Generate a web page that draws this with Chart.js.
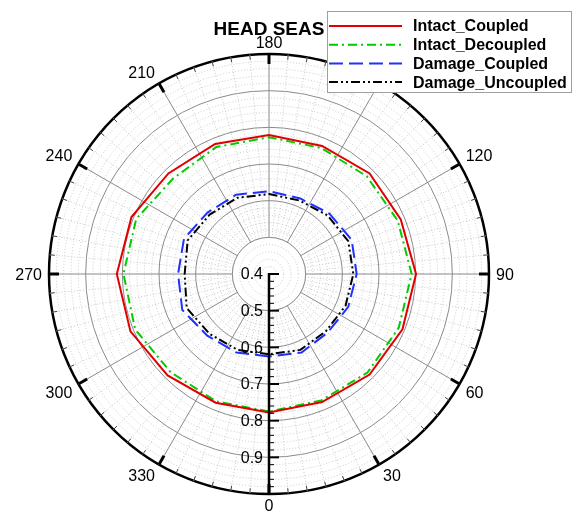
<!DOCTYPE html>
<html>
<head>
<meta charset="utf-8">
<script src="https://cdn.jsdelivr.net/npm/chart.js@4.4.0/dist/chart.umd.min.js"></script>
<style>
  body { margin: 0; background: #fff; }
  canvas { display: block; }
</style>
</head>
<body>
<canvas id="polarChart" width="580" height="515"></canvas>
<script>
// headings in degrees: 0 at bottom, counter-clockwise (90 right, 180 top)
const headings = [0, 22.5, 45, 67.5, 90, 112.5, 135, 157.5, 180, 202.5, 225, 247.5, 270, 292.5, 315, 337.5];

const intactCoupled    = [0.778, 0.778, 0.788, 0.794, 0.801, 0.789, 0.788, 0.778, 0.779, 0.784, 0.788, 0.806, 0.815, 0.809, 0.791, 0.780];
const intactDecoupled  = [0.775, 0.773, 0.780, 0.783, 0.789, 0.780, 0.777, 0.772, 0.773, 0.775, 0.769, 0.792, 0.797, 0.795, 0.779, 0.776];
const damageCoupled    = [0.625, 0.632, 0.626, 0.634, 0.639, 0.644, 0.633, 0.623, 0.626, 0.634, 0.637, 0.651, 0.648, 0.656, 0.638, 0.632];
const damageUncoupled  = [0.619, 0.624, 0.620, 0.626, 0.630, 0.634, 0.626, 0.617, 0.618, 0.625, 0.629, 0.640, 0.630, 0.643, 0.630, 0.624];

const seriesNames = ['Intact_Coupled', 'Intact_Decoupled', 'Damage_Coupled', 'Damage_Uncoupled'];
const angleTicks = [0, 30, 60, 90, 120, 150, 180, 210, 240, 270, 300, 330];
const radialTicks = [0.4, 0.5, 0.6, 0.7, 0.8, 0.9];
const rMin = 0.4, rMax = 1.0;
const titleText = 'HEAD SEAS';

// the radar scale works on slots of 2.5 deg so 22.5 deg data and 30/5 deg grid both fit
const STEP = 2.5;
const nSlots = 360 / STEP;
const slotOf = a => Math.round(((360 - a) % 360) / STEP) % nSlots;
const angleOf = i => (360 - i * STEP) % 360;
const toSlots = values => {
  const arr = new Array(nSlots).fill(null);
  headings.forEach((h, k) => { arr[slotOf(h)] = values[k]; });
  return arr;
};
const slotLabels = Array.from({length: nSlots}, (_, i) => String(angleOf(i)));

const isMajor = v => Math.abs(v * 10 - Math.round(v * 10)) < 1e-6;
const majorGrid = '#8a8a8a';
const minorGrid = '#c8c8c8';
const FONT = '"Liberation Sans", Arial, sans-serif';

const polarDecor = {
  id: 'polarDecor',
  beforeDatasetsDraw(chart) {
    // clear the hub inside 0.5 like the original, keep its dotted rings
    const s = chart.scales.r, ctx = chart.ctx;
    const r5 = s.getDistanceFromCenterForValue(0.5);
    ctx.save();
    ctx.fillStyle = '#fff';
    ctx.beginPath();
    ctx.arc(s.xCenter, s.yCenter, r5 + 0.5, 0, 2 * Math.PI);
    ctx.fill();
    ctx.lineWidth = 1;
    ctx.strokeStyle = minorGrid;
    ctx.setLineDash([1, 2]);
    s.ticks.forEach(t => {
      if (t.value > rMin + 1e-6 && t.value < 0.5 - 1e-6) {
        ctx.beginPath();
        ctx.arc(s.xCenter, s.yCenter, s.getDistanceFromCenterForValue(t.value), 0, 2 * Math.PI);
        ctx.stroke();
      }
    });
    ctx.setLineDash([]);
    ctx.strokeStyle = majorGrid;
    ctx.beginPath();
    ctx.arc(s.xCenter, s.yCenter, r5, 0, 2 * Math.PI);
    ctx.stroke();
    ctx.restore();
  },
  afterDatasetsDraw(chart) {
    const s = chart.scales.r, ctx = chart.ctx;
    const R = s.getDistanceFromCenterForValue(rMax);
    ctx.save();

    // tick marks on the rim
    for (let a = 0; a < 360; a += 5) {
      const i = slotOf(a);
      const major = a % 30 === 0;
      const p1 = s.getPointPosition(i, R);
      const p2 = s.getPointPosition(i, R - (major ? 10 : 5));
      ctx.strokeStyle = major ? '#000' : '#444';
      ctx.lineWidth = major ? 3 : 1;
      ctx.beginPath();
      ctx.moveTo(p1.x, p1.y);
      ctx.lineTo(p2.x, p2.y);
      ctx.stroke();
    }

    // radial axis pointing down from the centre
    ctx.strokeStyle = '#000';
    const top = s.getPointPositionForValue(0, rMin);
    const bot = s.getPointPositionForValue(0, rMax);
    ctx.lineWidth = 2.5;
    ctx.beginPath();
    ctx.moveTo(top.x, top.y - 1);
    ctx.lineTo(bot.x, bot.y);
    ctx.stroke();
    s.ticks.forEach(t => {
      if (t.value > rMax - 1e-6) return;
      const p = s.getPointPositionForValue(0, t.value);
      const major = isMajor(t.value);
      ctx.lineWidth = major ? 2 : 1;
      ctx.beginPath();
      ctx.moveTo(p.x, p.y);
      ctx.lineTo(p.x + (major ? 10 : 5), p.y);
      ctx.stroke();
    });
    ctx.fillStyle = '#000';
    ctx.font = '16px ' + FONT;
    ctx.textAlign = 'right';
    ctx.textBaseline = 'middle';
    radialTicks.forEach(v => {
      const p = s.getPointPositionForValue(0, v);
      ctx.fillText(v.toFixed(1), p.x - 6, p.y + 1);
    });

    // angle labels
    const capH = 11.4;
    ctx.textBaseline = 'alphabetic';
    angleTicks.forEach(a => {
      const rad = a * Math.PI / 180;
      const sn = Math.sin(rad), cs = Math.cos(rad);
      const p = s.getPointPosition(slotOf(a), R + 6);
      ctx.textAlign = Math.abs(sn) < 0.01 ? 'center' : (sn > 0 ? 'left' : 'right');
      let y;
      if (Math.abs(cs) < 0.01) y = p.y + capH / 2;
      else if (cs < 0) y = p.y;
      else y = p.y + capH;
      ctx.fillText(String(a), p.x + (Math.abs(sn) < 0.01 ? 0 : (sn > 0 ? 1 : -1)), y);
    });

    // title
    ctx.font = 'bold 19px ' + FONT;
    ctx.textAlign = 'center';
    ctx.fillText(titleText, s.xCenter, 35);

    // legend box over the top right
    const lx = 327, ly = 11, lw = 244, lh = 81;
    ctx.fillStyle = '#fff';
    ctx.fillRect(lx, ly, lw, lh);
    ctx.strokeStyle = '#a0a0a0';
    ctx.lineWidth = 1;
    ctx.strokeRect(lx + 0.5, ly + 0.5, lw, lh);
    ctx.font = 'bold 16px ' + FONT;
    ctx.textAlign = 'left';
    ctx.textBaseline = 'middle';
    chart.data.datasets.forEach((ds, k) => {
      const y = 26 + k * 18.7;
      ctx.strokeStyle = ds.borderColor;
      ctx.lineWidth = ds.borderWidth;
      ctx.setLineDash(ds.borderDash || []);
      ctx.beginPath();
      ctx.moveTo(329, y);
      ctx.lineTo(402, y);
      ctx.stroke();
      ctx.setLineDash([]);
      ctx.fillStyle = '#000';
      ctx.fillText(ds.label, 413, y + 1);
    });
    ctx.restore();
  }
};

const makeSet = (label, values, color, dash) => ({
  label: label,
  data: toSlots(values),
  borderColor: color,
  borderWidth: 2,
  borderDash: dash,
  fill: false,
  pointRadius: 0,
  pointHoverRadius: 0,
  spanGaps: true,
  tension: 0
});

new Chart(document.getElementById('polarChart').getContext('2d'), {
  type: 'radar',
  data: {
    labels: slotLabels,
    datasets: [
      makeSet(seriesNames[0], intactCoupled, '#e00000', []),
      makeSet(seriesNames[1], intactDecoupled, '#00cc00', [9, 4, 2, 4]),
      makeSet(seriesNames[2], damageCoupled, '#2030ff', [14, 6]),
      makeSet(seriesNames[3], damageUncoupled, '#000000', [9, 3, 2, 3, 2, 3])
    ]
  },
  options: {
    responsive: false,
    maintainAspectRatio: false,
    animation: false,
    devicePixelRatio: 1,
    layout: { padding: { left: 49, top: 54, right: 91, bottom: 21 } },
    plugins: {
      legend: { display: false },
      title: { display: false },
      tooltip: { enabled: false }
    },
    scales: {
      r: {
        min: rMin,
        max: rMax,
        startAngle: 180,
        beginAtZero: false,
        ticks: { display: false, stepSize: 0.02 },
        pointLabels: { display: false },
        grid: {
          circular: true,
          color: c => (c.tick && c.tick.value > rMax - 1e-6) ? '#000' : (isMajor(c.tick.value) ? majorGrid : minorGrid),
          lineWidth: c => (c.tick && c.tick.value > rMax - 1e-6) ? 2.5 : 1
        },
        border: {
          dash: c => (c.tick && !isMajor(c.tick.value)) ? [1, 2] : []
        },
        angleLines: {
          display: true,
          color: c => (angleOf(c.index) % 30 === 0) ? majorGrid : minorGrid,
          lineWidth: c => (angleOf(c.index) % 5 === 0) ? 1 : 0,
          borderDash: c => (angleOf(c.index) % 30 === 0) ? [] : [1, 2]
        }
      }
    }
  },
  plugins: [polarDecor]
});
</script>
</body>
</html>
